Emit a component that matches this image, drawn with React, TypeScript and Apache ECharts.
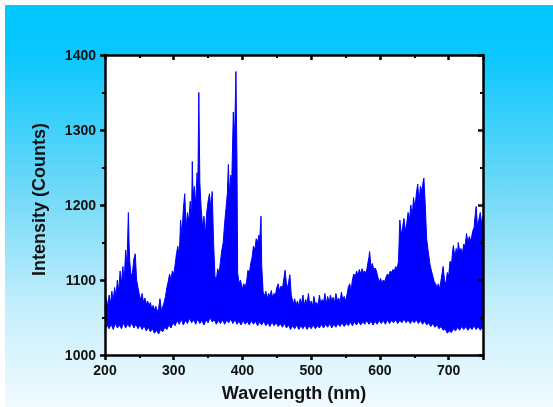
import React, { useEffect, useRef } from "react";
import * as echarts from "echarts";

// Upper envelope of the spectrum: [wavelength nm, intensity counts]
const upperEnvelope: [number, number][] = [
  [200, 1062], [202, 1075], [204, 1065], [206, 1080], [208, 1068], [210, 1085], [212, 1072],
  [214, 1090], [216, 1078], [218, 1100], [220, 1085], [222, 1112], [224, 1095], [226, 1118],
  [228, 1098], [230, 1140], [232, 1120], [234, 1190], [235, 1150], [236, 1125], [238, 1105],
  [240, 1110], [242, 1128], [244, 1135], [246, 1100], [248, 1090], [250, 1080], [252, 1074],
  [254, 1082], [256, 1070], [258, 1076], [260, 1068], [262, 1072], [264, 1066], [266, 1070],
  [268, 1062], [270, 1066], [272, 1060], [274, 1065], [276, 1058], [278, 1062], [280, 1075],
  [282, 1060], [284, 1064], [286, 1070], [288, 1078], [290, 1090], [292, 1098], [294, 1108],
  [296, 1100], [298, 1112], [300, 1108], [302, 1120], [304, 1135], [306, 1145], [308, 1130],
  [310, 1180], [312, 1160], [314, 1195], [316, 1215], [318, 1170], [320, 1190], [322, 1178],
  [324, 1205], [326, 1185], [327, 1258], [328, 1210], [330, 1225], [332, 1200], [334, 1243],
  [335, 1215], [336.5, 1350], [338, 1230], [340, 1195], [342, 1170], [344, 1185], [346, 1160],
  [348, 1190], [350, 1205], [352, 1215], [354, 1195], [356, 1218], [358, 1150], [360, 1105],
  [362, 1100], [364, 1115], [366, 1108], [368, 1125], [370, 1140], [372, 1150], [374, 1175],
  [376, 1195], [378, 1215], [379.5, 1254], [381, 1215], [383, 1240], [384.5, 1233],
  [386.7, 1324], [388, 1290], [389, 1310], [390.5, 1378], [392, 1260], [393, 1110],
  [395, 1095], [397, 1100], [400, 1088], [402, 1095], [404, 1090], [406, 1098], [408, 1113],
  [410, 1108], [412, 1122], [414, 1130], [416, 1145], [418, 1140], [420, 1155], [422, 1150],
  [424, 1160], [425, 1150], [427, 1185], [428, 1120], [430, 1085], [432, 1078], [434, 1085],
  [436, 1075], [438, 1082], [440, 1078], [442, 1086], [444, 1076], [446, 1082], [448, 1080],
  [450, 1090], [452, 1095], [454, 1085], [456, 1092], [458, 1088], [460, 1100], [462, 1113],
  [464, 1095], [466, 1090], [468, 1102], [469, 1107], [471, 1080], [474, 1068], [476, 1075],
  [478, 1066], [480, 1072], [482, 1065], [484, 1075], [486, 1068], [488, 1080], [490, 1066],
  [492, 1074], [494, 1068], [496, 1082], [498, 1066], [500, 1072], [502, 1065], [504, 1078],
  [506, 1068], [508, 1070], [510, 1066], [512, 1080], [514, 1068], [516, 1074], [518, 1070],
  [520, 1082], [522, 1068], [524, 1078], [526, 1070], [528, 1080], [530, 1072], [532, 1077],
  [534, 1070], [536, 1082], [538, 1072], [540, 1076], [542, 1070], [544, 1084], [546, 1074],
  [548, 1078], [550, 1072], [552, 1080], [554, 1090], [556, 1095], [558, 1086], [560, 1100],
  [562, 1108], [564, 1104], [566, 1112], [568, 1106], [570, 1114], [572, 1108], [574, 1115],
  [576, 1110], [578, 1112], [580, 1108], [582, 1120], [584, 1130], [585, 1138], [587, 1118],
  [589, 1122], [591, 1114], [593, 1116], [595, 1112], [597, 1104], [599, 1098], [601, 1102],
  [603, 1096], [605, 1100], [607, 1098], [609, 1104], [611, 1108], [613, 1106], [615, 1112],
  [617, 1110], [619, 1114], [621, 1112], [623, 1118], [625, 1115], [627, 1125], [629, 1180],
  [631, 1160], [633, 1170], [635, 1182], [637, 1165], [639, 1175], [641, 1190], [643, 1180],
  [645, 1200], [647, 1185], [649, 1210], [651, 1195], [653, 1215], [655, 1228], [657, 1205],
  [659, 1225], [661, 1218], [663, 1232], [664, 1236], [666, 1200], [668, 1155], [670, 1140],
  [673, 1120], [675, 1112], [677, 1105], [679, 1098], [681, 1095], [683, 1090], [685, 1095],
  [687, 1088], [689, 1100], [692, 1118], [694, 1100], [696, 1094], [698, 1110], [700, 1105],
  [702, 1125], [704, 1120], [706, 1140], [707, 1146], [709, 1130], [711, 1142], [713, 1135],
  [714, 1150], [716, 1138], [718, 1142], [720, 1135], [722, 1148], [724, 1145], [726, 1162],
  [728, 1150], [730, 1158], [732, 1152], [734, 1160], [735, 1165], [737, 1170], [739, 1190],
  [740, 1198], [742, 1170], [744, 1180], [746, 1190], [748, 1175], [750, 1185],
];

// Lower envelope of the spectrum: [wavelength nm, intensity counts]
const lowerEnvelope: [number, number][] = [
  [200, 1033], [203, 1040], [206, 1035], [209, 1041], [212, 1034], [215, 1042], [218, 1036],
  [221, 1040], [224, 1035], [227, 1043], [230, 1036], [233, 1041], [236, 1037], [239, 1043],
  [242, 1036], [245, 1041], [248, 1035], [251, 1040], [254, 1034], [257, 1039], [260, 1032],
  [263, 1037], [266, 1031], [269, 1035], [272, 1029], [275, 1033], [278, 1028], [281, 1034],
  [284, 1031], [287, 1037], [290, 1034], [293, 1040], [296, 1036], [299, 1043], [302, 1039],
  [305, 1046], [308, 1041], [311, 1048], [314, 1040], [317, 1046], [320, 1042], [323, 1049],
  [326, 1043], [329, 1047], [332, 1041], [335, 1048], [338, 1042], [341, 1046], [344, 1040],
  [347, 1047], [350, 1043], [353, 1050], [356, 1044], [359, 1047], [362, 1041], [365, 1046],
  [368, 1042], [371, 1047], [374, 1041], [377, 1046], [380, 1043], [383, 1048], [386, 1042],
  [389, 1047], [392, 1041], [395, 1045], [398, 1040], [401, 1046], [404, 1041], [407, 1045],
  [410, 1040], [413, 1046], [416, 1041], [419, 1045], [422, 1039], [425, 1044], [428, 1040],
  [431, 1045], [434, 1039], [437, 1043], [440, 1038], [443, 1044], [446, 1039], [449, 1043],
  [452, 1038], [455, 1042], [458, 1037], [461, 1042], [464, 1036], [467, 1040], [470, 1034],
  [473, 1039], [476, 1035], [479, 1040], [482, 1034], [485, 1039], [488, 1035], [491, 1040],
  [494, 1034], [497, 1039], [500, 1035], [503, 1040], [506, 1035], [509, 1039], [512, 1036],
  [515, 1041], [518, 1036], [521, 1041], [524, 1037], [527, 1042], [530, 1036], [533, 1041],
  [536, 1037], [539, 1042], [542, 1038], [545, 1043], [548, 1038], [551, 1042], [554, 1039],
  [557, 1044], [560, 1039], [563, 1044], [566, 1040], [569, 1045], [572, 1040], [575, 1044],
  [578, 1041], [581, 1046], [584, 1041], [587, 1045], [590, 1040], [593, 1045], [596, 1041],
  [599, 1046], [602, 1042], [605, 1046], [608, 1041], [611, 1047], [614, 1042], [617, 1046],
  [620, 1043], [623, 1047], [626, 1042], [629, 1046], [632, 1043], [635, 1048], [638, 1043],
  [641, 1047], [644, 1042], [647, 1046], [650, 1043], [653, 1047], [656, 1042], [659, 1046],
  [662, 1041], [665, 1045], [668, 1040], [671, 1043], [674, 1038], [677, 1042], [680, 1037],
  [683, 1040], [686, 1035], [689, 1038], [692, 1033], [695, 1035], [698, 1029], [701, 1032],
  [704, 1030], [707, 1035], [710, 1032], [713, 1037], [716, 1033], [719, 1038], [722, 1034],
  [725, 1038], [728, 1033], [731, 1037], [734, 1034], [737, 1039], [740, 1034], [743, 1038],
  [746, 1033], [749, 1037], [750, 1035],
];

const xTicks = { min: 200, max: 750, interval: 100 };
const yTicks = { min: 1000, max: 1400, interval: 100 };
const xTitle = "Wavelength (nm)";
const yTitle = "Intensity (Counts)";

const FONT = "'Liberation Sans', Arial, sans-serif";

export default function App() {
  const ref = useRef<HTMLDivElement>(null);

  useEffect(() => {
    document.body.style.margin = "0";
    if (!ref.current) return;
    const chart = echarts.init(ref.current, undefined, { renderer: "svg" });

    const axisLine = { show: true, lineStyle: { color: "#000", width: 2.5 } };
    const labelStyle = {
      fontFamily: FONT,
      fontWeight: "bold" as const,
      fontSize: 14,
      color: "#111",
      formatter: (v: number) => String(v),
    };
    const tick = (inside: boolean) => ({
      show: true,
      inside,
      length: 5,
      lineStyle: { color: "#000", width: 2.5 },
    });
    const minor = { show: true, splitNumber: 2, length: 3, lineStyle: { color: "#000", width: 2 } };

    chart.setOption({
      animation: false,
      graphic: [
        {
          type: "rect",
          z: -10,
          shape: { x: 5, y: 5, width: 548, height: 402 },
          style: {
            fill: {
              type: "linear",
              x: 0, y: 0, x2: 0, y2: 1,
              colorStops: [
                { offset: 0, color: "#02C6FF" },
                { offset: 0.12, color: "#08C7FE" },
                { offset: 0.45, color: "#6CD8F8" },
                { offset: 0.75, color: "#C4EEFB" },
                { offset: 1, color: "#F2FBFF" },
              ],
            },
          },
        },
      ],
      grid: {
        left: 105,
        right: 70,
        top: 55,
        bottom: 49,
        show: true,
        backgroundColor: "#fff",
        borderWidth: 0,
      },
      xAxis: [
        {
          type: "value",
          min: xTicks.min,
          max: xTicks.max,
          interval: xTicks.interval,
          z: 10,
          axisLine,
          axisTick: tick(false),
          minorTick: minor,
          splitLine: { show: false },
          axisLabel: { ...labelStyle, margin: 8, showMaxLabel: false },
          name: xTitle,
          nameLocation: "middle",
          nameGap: 29,
          nameTextStyle: { fontFamily: FONT, fontWeight: "bold", fontSize: 18, color: "#111" },
        },
        {
          type: "value",
          position: "top",
          min: xTicks.min,
          max: xTicks.max,
          interval: xTicks.interval,
          z: 10,
          axisLine,
          axisTick: tick(true),
          minorTick: minor,
          splitLine: { show: false },
          axisLabel: { show: false },
        },
      ],
      yAxis: [
        {
          type: "value",
          min: yTicks.min,
          max: yTicks.max,
          interval: yTicks.interval,
          z: 10,
          axisLine,
          axisTick: tick(false),
          minorTick: minor,
          splitLine: { show: false },
          axisLabel: { ...labelStyle, margin: 9 },
          name: yTitle,
          nameLocation: "middle",
          nameGap: 57,
          nameTextStyle: {
            fontFamily: FONT,
            fontWeight: "bold",
            fontSize: 18,
            color: "#111",
            padding: [0, 0, 0, 11],
          },
        },
        {
          type: "value",
          position: "right",
          min: yTicks.min,
          max: yTicks.max,
          interval: yTicks.interval,
          z: 10,
          axisLine,
          axisTick: tick(true),
          minorTick: minor,
          splitLine: { show: false },
          axisLabel: { show: false },
        },
      ],
      series: [
        {
          type: "line",
          data: upperEnvelope,
          symbol: "none",
          lineStyle: { color: "#0000FF", width: 1 },
          areaStyle: { color: "#0000FF", opacity: 1, origin: "start" },
          z: 2,
        },
        {
          type: "line",
          data: lowerEnvelope,
          symbol: "none",
          lineStyle: { color: "#0000FF", width: 1 },
          areaStyle: { color: "#FFFFFF", opacity: 1, origin: "start" },
          z: 3,
        },
      ],
    });

    return () => chart.dispose();
  }, []);

  return (
    <div
      ref={ref}
      style={{ position: "fixed", left: 0, top: 0, width: 553, height: 407 }}
    />
  );
}
